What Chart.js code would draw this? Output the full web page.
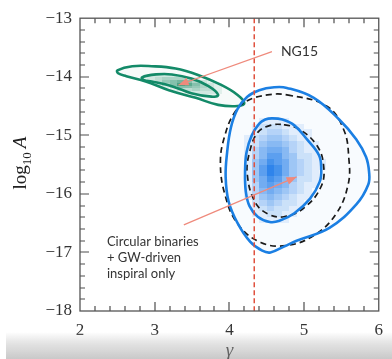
<!DOCTYPE html>
<html>
<head>
<meta charset="utf-8">
<script src="https://cdn.jsdelivr.net/npm/chart.js@4.4.1/dist/chart.umd.min.js"></script>
<style>
html, body { margin: 0; padding: 0; background: #fff; }
</style>
</head>
<body>
<canvas id="gwChart" width="392" height="359"></canvas>
<script>
// tick values
var gammaTicks = [2, 3, 4, 5, 6];
var logATicks = [-18, -17, -16, -15, -14, -13];
var minorPerMajor = 5;

// contours, [gamma, log10 A]
var ng15Outer = [[3.28,-13.86],[3.58,-13.97],[3.89,-14.14],[4.11,-14.31],[4.20,-14.45],[4.11,-14.50],[3.85,-14.48],[3.55,-14.36],[3.19,-14.23],[2.88,-14.08],[2.62,-13.99],[2.51,-13.94],[2.50,-13.89],[2.70,-13.82],[2.96,-13.82]];
var ng15Inner = [[3.23,-13.96],[3.49,-14.03],[3.72,-14.16],[3.85,-14.31],[3.76,-14.34],[3.49,-14.28],[3.23,-14.16],[2.96,-14.08],[2.86,-14.06],[2.83,-14.01],[3.02,-13.96]];
var circOuter = [[4.60,-14.18],[4.77,-14.19],[5.13,-14.36],[5.47,-14.73],[5.70,-15.07],[5.83,-15.37],[5.87,-15.62],[5.86,-15.84],[5.70,-16.18],[5.34,-16.58],[4.90,-16.80],[4.73,-16.90],[4.55,-17.00],[4.44,-16.97],[4.28,-16.82],[4.11,-16.50],[3.99,-16.13],[3.95,-15.71],[3.97,-15.29],[4.02,-14.87],[4.11,-14.55],[4.24,-14.34],[4.40,-14.23]];
var circInner = [[4.57,-14.71],[4.71,-14.73],[4.87,-14.83],[5.04,-15.07],[5.20,-15.34],[5.23,-15.57],[5.21,-15.79],[5.08,-16.08],[4.87,-16.33],[4.67,-16.46],[4.54,-16.48],[4.38,-16.39],[4.27,-16.21],[4.22,-15.96],[4.21,-15.62],[4.23,-15.29],[4.30,-15.00],[4.40,-14.80],[4.48,-14.73]];
var modelOuter = [[4.77,-14.31],[5.30,-14.50],[5.53,-14.90],[5.60,-15.40],[5.59,-15.84],[5.43,-16.34],[5.13,-16.71],[4.77,-16.88],[4.42,-16.83],[4.11,-16.51],[3.94,-16.01],[3.88,-15.45],[3.94,-15.00],[4.07,-14.61],[4.24,-14.41],[4.51,-14.31]];
var modelInner = [[4.73,-14.82],[4.94,-14.90],[5.17,-15.17],[5.26,-15.50],[5.23,-15.87],[5.00,-16.24],[4.73,-16.39],[4.51,-16.34],[4.34,-16.13],[4.24,-15.67],[4.27,-15.29],[4.38,-14.95],[4.55,-14.83]];

// gamma = 13/3 reference line
var gammaGW = [[4.333,-13],[4.333,-18]];

// annotation arrows, [tail, tip]
var arrowNG15 = [[4.57,-13.57],[3.32,-14.14]];
var arrowCirc = [[3.39,-16.53],[4.90,-15.71]];

// density cells, one digit per cell (0-9)
var blueStart = [4.2, -14.7];
var blueDensity = [
  '00111100000',
  '01222111000',
  '01233211100',
  '12344321100',
  '12455432110',
  '13566532110',
  '13577542210',
  '14687643211',
  '14798643211',
  '14798643210',
  '14687542210',
  '13676532110',
  '13565432100',
  '12454321100',
  '02343221000',
  '01232211000',
  '01122110000',
  '00111100000'
];
var greenStart = [2.9, -13.95];
var greenDensity = [
  '1111000000',
  '1233321000',
  '1245653210',
  '0135875321',
  '0013554321',
  '0001223221',
  '0000011111'
];

function pts(list) {
  return list.map(function (p) { return { x: p[0], y: p[1] }; });
}

function contour(list, color, width, dash, fillColor, order) {
  return {
    data: pts(list),
    showLine: true,
    closed: true,
    borderColor: color,
    borderWidth: width,
    borderDash: dash,
    backgroundColor: fillColor,
    fill: fillColor ? 'shape' : false,
    tension: 0.4,
    pointRadius: 0,
    order: order
  };
}

function segment(list, color, width, dash, order) {
  return {
    data: pts(list),
    showLine: true,
    borderColor: color,
    borderWidth: width,
    borderDash: dash,
    fill: false,
    tension: 0,
    pointRadius: 0,
    order: order
  };
}

var arrowColor = '#ef8a7c';

// make contour lines closed loops
var loopPlugin = {
  id: 'loops',
  afterDatasetUpdate: function (chart, args) {
    var ds = chart.data.datasets[args.index];
    if (!ds.closed) return;
    var line = chart.getDatasetMeta(args.index).dataset;
    line._loop = true;
    line._fullLoop = true;
    line._pointsUpdated = false;
    line._path = undefined;
    line._segments = undefined;
  }
};

function drawCells(ctx, xs, ys, rows, start, dx, dy, rgb) {
  rows.forEach(function (row, r) {
    row.split('').forEach(function (ch, c) {
      var v = +ch;
      if (!v) return;
      var g0 = start[0] + c * dx, a0 = start[1] - r * dy;
      var x0 = Math.round(xs.getPixelForValue(g0)), x1 = Math.round(xs.getPixelForValue(g0 + dx));
      var y0 = Math.round(ys.getPixelForValue(a0)), y1 = Math.round(ys.getPixelForValue(a0 - dy));
      ctx.fillStyle = 'rgba(' + rgb + ',' + (v * 0.09).toFixed(2) + ')';
      ctx.fillRect(x0, y0, x1 - x0, y1 - y0);
    });
  });
}

var densityPlugin = {
  id: 'density',
  beforeDatasetsDraw: function (chart) {
    var ctx = chart.ctx, xs = chart.scales.x, ys = chart.scales.y;
    ctx.save();
    drawCells(ctx, xs, ys, greenDensity, greenStart, 0.1, 0.05, '15,130,90');
    drawCells(ctx, xs, ys, blueDensity, blueStart, 0.1, 0.1, '0,105,230');
    ctx.restore();
  }
};

function arrowHead(ctx, xs, ys, arrow) {
  var tx = xs.getPixelForValue(arrow[0][0]), ty = ys.getPixelForValue(arrow[0][1]);
  var hx = xs.getPixelForValue(arrow[1][0]), hy = ys.getPixelForValue(arrow[1][1]);
  var ang = Math.atan2(hy - ty, hx - tx);
  var len = 10, half = 4;
  ctx.save();
  ctx.translate(hx, hy);
  ctx.rotate(ang);
  ctx.beginPath();
  ctx.moveTo(0, 0);
  ctx.lineTo(-len, -half);
  ctx.lineTo(-len, half);
  ctx.closePath();
  ctx.fillStyle = arrowColor;
  ctx.fill();
  ctx.restore();
}

// inward tick marks, drawn as small filled triangles-free rectangles
function drawTicks(ctx, a) {
  var L = a.left, R = a.right, T = a.top, B = a.bottom;
  var nx = (gammaTicks.length - 1) * minorPerMajor;
  var ny = (logATicks.length - 1) * minorPerMajor;
  var i, p, len;
  ctx.save();
  ctx.fillStyle = '#4d4d4d';
  ctx.beginPath();
  for (i = 1; i < nx; i++) {
    p = Math.round(L + (R - L) * i / nx);
    len = i % minorPerMajor === 0 ? 9 : 5;
    ctx.rect(p - 0.6, B - len, 1.2, len);
    ctx.rect(p - 0.6, T, 1.2, len);
  }
  for (i = 1; i < ny; i++) {
    p = Math.round(T + (B - T) * i / ny);
    len = i % minorPerMajor === 0 ? 9 : 5;
    ctx.rect(L, p - 0.6, len, 1.2);
    ctx.rect(R - len, p - 0.6, len, 1.2);
  }
  ctx.fill();
  ctx.restore();
}

var annotPlugin = {
  id: 'annot',
  afterDatasetsDraw: function (chart) {
    var ctx = chart.ctx, xs = chart.scales.x, ys = chart.scales.y;
    arrowHead(ctx, xs, ys, arrowNG15);
    arrowHead(ctx, xs, ys, arrowCirc);
    drawTicks(ctx, chart.chartArea);
    ctx.save();
    ctx.fillStyle = '#333';
    ctx.textBaseline = 'middle';
    ctx.font = '14px Lato';
    ctx.fillText('NG15', xs.getPixelForValue(4.69), ys.getPixelForValue(-13.57));
    ctx.font = '13px Lato';
    var lx = xs.getPixelForValue(2.36);
    ctx.fillText('Circular binaries', lx, ys.getPixelForValue(-16.82));
    ctx.fillText('+ GW-driven', lx, ys.getPixelForValue(-17.09));
    ctx.fillText('inspiral only', lx, ys.getPixelForValue(-17.36));
    ctx.restore();
  }
};

var framePlugin = {
  id: 'frame',
  afterDraw: function (chart) {
    var ctx = chart.ctx, a = chart.chartArea;
    var L = a.left, R = a.right, T = a.top, B = a.bottom;
    ctx.save();
    ctx.setLineDash([]);
    ctx.strokeStyle = '#555';
    ctx.lineWidth = 1.3;
    ctx.strokeRect(L, T, R - L, B - T);

    // y title: log10 A
    ctx.fillStyle = '#222';
    ctx.textBaseline = 'alphabetic';
    ctx.translate(26, 163);
    ctx.rotate(-Math.PI / 2);
    ctx.textAlign = 'left';
    ctx.font = '19px "Liberation Serif"';
    var w1 = ctx.measureText('log').width;
    ctx.font = '13px "Liberation Serif"';
    var w2 = ctx.measureText('10').width;
    ctx.font = 'italic 19px "Liberation Serif"';
    var w3 = ctx.measureText('A').width;
    var t0 = -(w1 + w2 + 4 + w3) / 2;
    ctx.font = '19px "Liberation Serif"';
    ctx.fillText('log', t0, 0);
    ctx.font = '13px "Liberation Serif"';
    ctx.fillText('10', t0 + w1, 5);
    ctx.font = 'italic 19px "Liberation Serif"';
    ctx.fillText('A', t0 + w1 + w2 + 4, 0);
    ctx.restore();

    // grey band along the bottom
    ctx.save();
    var g = ctx.createLinearGradient(0, 332, 0, 359);
    g.addColorStop(0, 'rgba(215,215,215,0)');
    g.addColorStop(0.45, 'rgba(218,218,218,0.8)');
    g.addColorStop(1, 'rgba(200,200,200,1)');
    ctx.fillStyle = g;
    ctx.fillRect(6, 332, 386, 27);
    // x title over the band
    ctx.fillStyle = 'rgba(60,60,60,0.75)';
    ctx.font = 'italic 19px "Liberation Serif"';
    ctx.textAlign = 'center';
    ctx.textBaseline = 'alphabetic';
    ctx.fillText('\u03B3', (L + R) / 2, 356);
    ctx.restore();
  }
};

var ctx = document.getElementById('gwChart').getContext('2d');
var myChart = new Chart(ctx, {
  type: 'scatter',
  data: {
    datasets: [
      segment(arrowNG15, arrowColor, 1.2, [], 0),
      segment(arrowCirc, arrowColor, 1.2, [], 0),
      segment(gammaGW, '#e0513f', 1.5, [5, 3], 1),
      contour(circOuter, '#1b7fe3', 2.6, [], 'rgba(40,130,235,0.03)', 2),
      contour(circInner, '#1b7fe3', 2.6, [], null, 2),
      contour(modelOuter, '#1a1a1a', 1.7, [6, 4], null, 3),
      contour(modelInner, '#1a1a1a', 1.7, [6, 4], null, 3),
      contour(ng15Outer, '#138a68', 2.6, [], 'rgba(20,140,100,0.04)', 4),
      contour(ng15Inner, '#138a68', 2.6, [], 'rgba(20,140,100,0.07)', 4)
    ]
  },
  options: {
    responsive: false,
    animation: false,
    layout: { padding: { top: 14, right: 7, left: 0, bottom: 0 } },
    plugins: {
      legend: { display: false },
      tooltip: { enabled: false },
      filler: { drawTime: 'beforeDatasetsDraw' }
    },
    scales: {
      x: {
        type: 'linear', min: 2, max: 6,
        afterBuildTicks: function (s) { s.ticks = gammaTicks.map(function (v) { return { value: v }; }); },
        afterFit: function (s) { s.height = 48; },
        grid: { display: false, drawTicks: false },
        border: { display: false },
        ticks: { padding: 9, color: '#333', font: { family: '"Liberation Serif"', size: 17 } }
      },
      y: {
        type: 'linear', min: -18, max: -13,
        afterBuildTicks: function (s) { s.ticks = logATicks.map(function (v) { return { value: v }; }); },
        afterFit: function (s) { s.width = 80; },
        grid: { display: false, drawTicks: false },
        border: { display: false },
        ticks: {
          padding: 8, color: '#333', font: { family: '"Liberation Serif"', size: 17 },
          callback: function (v) { return '\u2212' + Math.abs(v); }
        }
      }
    }
  },
  plugins: [loopPlugin, densityPlugin, annotPlugin, framePlugin]
});
</script>
</body>
</html>
